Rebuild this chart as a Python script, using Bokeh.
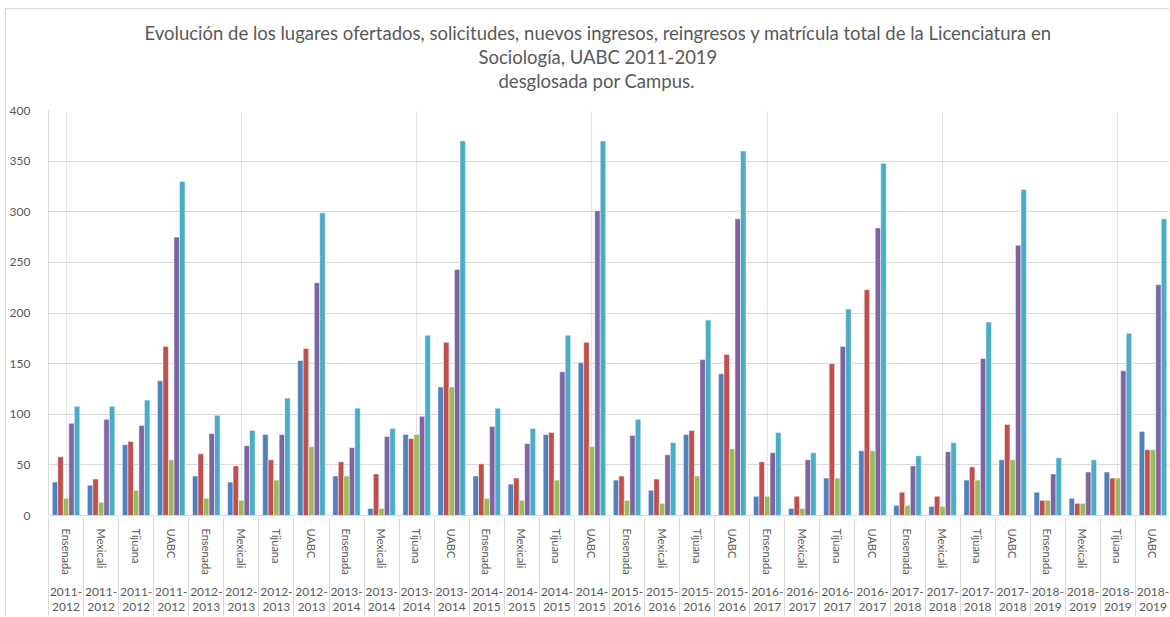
import numpy as np
from bokeh.plotting import figure
from bokeh.models import ColumnDataSource, Range1d, FixedTicker, SingleIntervalTicker, LinearAxis, Title
from bokeh.transform import dodge
from bokeh.embed import file_html
from bokeh.resources import INLINE

# ---------------- data ----------------
years = ["2011-2012", "2012-2013", "2013-2014", "2014-2015",
         "2015-2016", "2016-2017", "2017-2018", "2018-2019"]
campuses = ["Ensenada", "Mexicali", "Tijuana", "UABC"]

lugares_ofertados = [33, 30, 70, 133,  39, 33, 80, 153,  39, 7, 80, 127,  39, 31, 80, 151,
                     35, 25, 80, 140,  19, 7, 37, 64,   10, 9, 35, 55,   23, 17, 43, 83]
solicitudes = [58, 36, 73, 167,  61, 49, 55, 165,  53, 41, 76, 171,  51, 37, 82, 171,
               39, 36, 84, 159,  53, 19, 150, 223,  23, 19, 48, 90,  15, 12, 37, 65]
nuevos_ingresos = [17, 13, 25, 55,  17, 15, 35, 68,  39, 7, 80, 127,  17, 15, 35, 68,
                   15, 12, 39, 66,  19, 7, 37, 64,  10, 9, 35, 55,  15, 12, 37, 65]
reingresos = [91, 95, 89, 275,  81, 69, 80, 230,  67, 78, 98, 243,  88, 71, 142, 301,
              79, 60, 154, 293,  62, 55, 167, 284,  49, 63, 155, 267,  41, 43, 143, 228]
matricula_total = [108, 108, 114, 330,  99, 84, 116, 299,  106, 86, 178, 370,  106, 86, 178, 370,
                   95, 72, 193, 360,  82, 62, 204, 348,  59, 72, 191, 322,  57, 55, 180, 293]

title_lines = ["Evolución de los lugares ofertados, solicitudes, nuevos ingresos, reingresos y  matrícula total  de la Licenciatura en",
               "Sociología, UABC 2011-2019",
               "desglosada por Campus."]

series = [("lugares_ofertados", lugares_ofertados, "#4F81BD"),
          ("solicitudes", solicitudes, "#C0504D"),
          ("nuevos_ingresos", nuevos_ingresos, "#9BBB59"),
          ("reingresos", reingresos, "#8064A2"),
          ("matricula_total", matricula_total, "#4BACC6")]

cat_campus = [c for y in years for c in campuses]
cat_year = [y for y in years for c in campuses]
n = len(cat_campus)
centers = list(range(n))

data = dict(x=centers, campus=cat_campus, year=cat_year)
for name, vals, _ in series:
    data[name] = vals
src = ColumnDataSource(data)

FONT = "Lato"
GREY = "#595959"
LINE = "#D9D9D9"

p = figure(width=1164, height=608, output_backend="svg", toolbar_location=None,
           x_range=Range1d(-0.5, n - 0.5), y_range=Range1d(0, 400),
           x_axis_location=None, title=None)
p.styles = {"border-left": "1px solid #D9D9D9", "border-top": "1px solid #D9D9D9",
            "margin-left": "5px", "margin-top": "8px"}
p.outline_line_color = None
p.min_border_left = 41
p.min_border_right = 0
p.min_border_top = 101
p.min_border_bottom = 0

# spacer between the title block and the plot area
p.add_layout(Title(text=" ", text_font_size="1px", standoff=16), "above")
# title lines: the first added sits closest to the plot
title_offsets = [450, 430, 96]
for line, off in zip(reversed(title_lines), title_offsets):
    p.add_layout(Title(text=line, align="left", offset=off, text_font=FONT,
                       text_font_size="18.5px", text_font_style="normal",
                       text_color=GREY, standoff=0), "above")

bw = 0.157
offsets = [-2 * bw, -bw, 0, bw, 2 * bw]
for (name, vals, color), off in zip(series, offsets):
    p.vbar(x=dodge("x", off), top=name, width=bw, source=src,
           fill_color=color, line_color="white", line_width=0.5)

# y axis
p.yaxis.ticker = SingleIntervalTicker(interval=50)
p.yaxis.major_tick_line_color = None
p.yaxis.minor_tick_line_color = None
p.yaxis.axis_line_color = LINE
p.yaxis.major_label_text_font = FONT
p.yaxis.major_label_text_font_size = "12px"
p.yaxis.major_label_text_color = GREY
p.yaxis.major_label_standoff = 12
p.ygrid.grid_line_color = LINE
p.ygrid.grid_line_width = 1

# category axes
campus_axis = LinearAxis(ticker=FixedTicker(ticks=centers),
                         major_label_overrides={c: lab for c, lab in zip(centers, cat_campus)},
                         major_label_orientation="vertical",
                         major_tick_line_color=None, minor_tick_line_color=None,
                         axis_line_color=LINE, major_label_standoff=7,
                         major_label_text_font=FONT, major_label_text_font_size="11px",
                         major_label_text_color=GREY)
year_labels = [y.replace("-", "-\n") for y in cat_year]
year_axis = LinearAxis(ticker=FixedTicker(ticks=centers),
                       major_label_overrides={c: lab for c, lab in zip(centers, year_labels)},
                       major_tick_line_color=None, minor_tick_line_color=None,
                       axis_line_color=None, major_label_standoff=0,
                       major_label_text_font=FONT, major_label_text_font_size="12px",
                       major_label_text_line_height=1.05,
                       major_label_text_color=GREY)
sep_ticks = [c - 0.5 for c in centers] + [n - 0.5]
sep_axis = LinearAxis(ticker=FixedTicker(ticks=sep_ticks),
                      major_label_overrides={t: "" for t in sep_ticks},
                      major_tick_in=100, major_tick_out=0,
                      major_tick_line_color=LINE, minor_tick_line_color=None,
                      axis_line_color=None, major_label_standoff=0,
                      major_label_text_font_size="1px")
p.add_layout(campus_axis, "below")
p.add_layout(year_axis, "below")
p.add_layout(sep_axis, "below")

open("out.html", "w").write(file_html(p, INLINE))
